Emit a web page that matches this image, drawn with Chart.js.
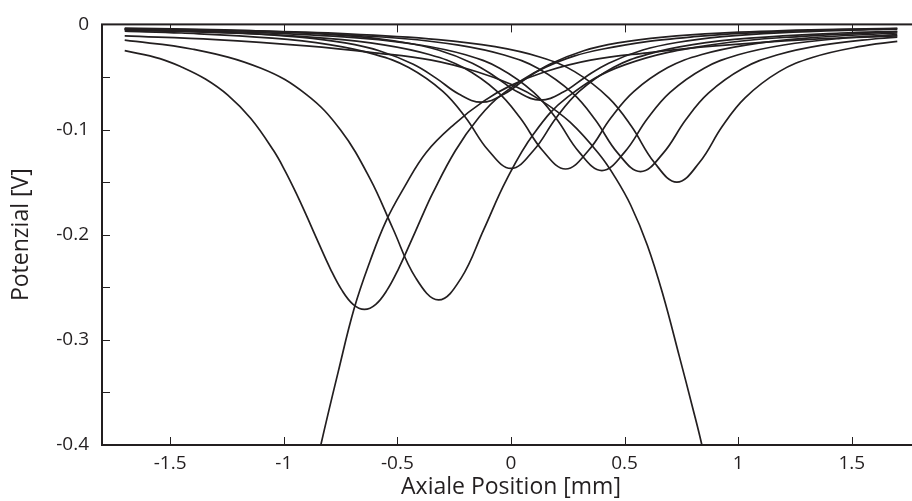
<!DOCTYPE html>
<html>
<head>
<meta charset="utf-8">
<script src="https://cdn.jsdelivr.net/npm/chart.js@4.4.1/dist/chart.umd.min.js"></script>
<style>
  html, body { margin: 0; padding: 0; background: #fff; overflow: hidden; }
  #wrap { position: relative; width: 922px; height: 501px; }
</style>
</head>
<body>
<div id="wrap"><canvas id="chart"></canvas></div>
<script>
const INK = '#231f20';

// tick values
const X_TICKS = [-1.5, -1, -0.5, 0, 0.5, 1, 1.5];
const Y_TICKS = [0, -0.1, -0.2, -0.3, -0.4];
const Y_MINOR = [0, -0.05, -0.1, -0.15, -0.2, -0.25, -0.3, -0.35, -0.4];

// curves (x in mm, potential in V)
const curve1X = [-1.7, -1.545, -1.445, -1.345, -1.245, -1.145, -1.045, -0.995, -0.945, -0.895, -0.845, -0.795, -0.745, -0.695, -0.645, -0.595, -0.545, -0.495, -0.445, -0.395, -0.345, -0.245, -0.145, -0.045, 0.155, 0.405, 0.805, 1.255, 1.7];
const curve1Y = [-0.025, -0.0325, -0.041, -0.052, -0.0675, -0.0895, -0.120, -0.139, -0.1607, -0.1843, -0.2088, -0.2324, -0.2525, -0.2662, -0.271, -0.2662, -0.2525, -0.2324, -0.2088, -0.1843, -0.1607, -0.1201, -0.0895, -0.0675, -0.0404, -0.0234, -0.0117, -0.0063, -0.0039];

const curve2X = [-1.7, -1.4, -1.1, -0.9, -0.75, -0.62, -0.52, -0.42, -0.319, -0.22, -0.12, -0.02, 0.1, 0.25, 0.5, 0.9, 1.3, 1.7];
const curve2Y = [-0.0150, -0.0236, -0.0417, -0.0668, -0.1005, -0.1469, -0.1941, -0.2408, -0.262, -0.2415, -0.1951, -0.1478, -0.104, -0.0689, -0.0385, -0.0189, -0.0111, -0.0072];

const curve3X = [-1.7, -1.45, -1.05, -0.8, -0.6, -0.45, -0.3, -0.2, -0.1, 0, 0.1, 0.2, 0.3, 0.45, 0.6, 0.8, 1.05, 1.45, 1.7];
const curve3Y = [-0.0065, -0.0082, -0.0131, -0.0193, -0.0285, -0.041, -0.0637, -0.0885, -0.1197, -0.137, -0.1197, -0.0885, -0.0637, -0.041, -0.0285, -0.0193, -0.0131, -0.0082, -0.0065];

const curve4X = [-1.7, -1.21, -0.81, -0.56, -0.36, -0.21, -0.06, 0.04, 0.14, 0.24, 0.34, 0.44, 0.54, 0.69, 0.84, 1.04, 1.29, 1.7];
const curve4Y = [-0.0054, -0.0083, -0.0132, -0.0194, -0.0286, -0.0411, -0.0639, -0.0888, -0.1202, -0.1375, -0.1202, -0.0888, -0.0639, -0.0411, -0.0286, -0.0194, -0.0132, -0.0082];

const curve5X = [-1.7, -1.5, -1.05, -0.65, -0.4, -0.2, -0.05, 0.1, 0.2, 0.3, 0.4, 0.5, 0.6, 0.7, 0.85, 1.0, 1.2, 1.45, 1.7];
const curve5Y = [-0.0048, -0.0056, -0.0083, -0.0133, -0.0196, -0.0289, -0.0416, -0.0646, -0.0898, -0.1215, -0.139, -0.1215, -0.0898, -0.0646, -0.0416, -0.0289, -0.0196, -0.0133, -0.0098];

const curve6X = [-1.7, -1.33, -0.88, -0.48, -0.23, -0.03, 0.12, 0.27, 0.37, 0.47, 0.57, 0.67, 0.77, 0.87, 1.02, 1.17, 1.37, 1.62, 1.7];
const curve6Y = [-0.0043, -0.0056, -0.0084, -0.0134, -0.0197, -0.0291, -0.0419, -0.0651, -0.0904, -0.1224, -0.140, -0.1224, -0.0904, -0.0651, -0.0419, -0.0291, -0.0197, -0.0134, -0.0121];

const curve7X = [-1.7, -1.17, -0.72, -0.32, -0.07, 0.13, 0.28, 0.43, 0.53, 0.63, 0.73, 0.83, 0.93, 1.03, 1.18, 1.33, 1.53, 1.7];
const curve7Y = [-0.0042, -0.0060, -0.0090, -0.0144, -0.0212, -0.0312, -0.0449, -0.0698, -0.0969, -0.1311, -0.150, -0.1311, -0.0969, -0.0698, -0.0449, -0.0312, -0.0212, -0.0161];

const curve8X = [-1.7, -1.18, -0.93, -0.73, -0.58, -0.43, -0.33, -0.23, -0.13, -0.03, 0.07, 0.17, 0.32, 0.47, 0.67, 0.92, 1.32, 1.7];
const curve8Y = [-0.0046, -0.0083, -0.0121, -0.0176, -0.025, -0.0379, -0.0511, -0.0662, -0.074, -0.0662, -0.0511, -0.0379, -0.025, -0.0176, -0.0121, -0.0083, -0.0052, -0.0037];

const curve9X = [-1.7, -1.32, -0.92, -0.67, -0.47, -0.32, -0.17, -0.07, 0.03, 0.13, 0.23, 0.33, 0.43, 0.58, 0.73, 0.93, 1.18, 1.58, 1.7];
const curve9Y = [-0.0036, -0.0050, -0.0080, -0.0117, -0.0172, -0.0244, -0.0369, -0.0497, -0.0644, -0.072, -0.0644, -0.0497, -0.0369, -0.0244, -0.0172, -0.0117, -0.0080, -0.0050, -0.0045];

const curve10X = [-1.7, -1.3, -1.05, -0.95, -0.837, -0.76, -0.69, -0.62, -0.55, -0.47, -0.374, -0.25, -0.12, 0, 0.15, 0.35, 0.6, 0.9, 1.3, 1.7];
const curve10Y = [-1.5, -0.95, -0.63, -0.51, -0.40, -0.33, -0.27, -0.225, -0.187, -0.155, -0.122, -0.095, -0.073, -0.058, -0.045, -0.034, -0.027, -0.0205, -0.0145, -0.011];

const curve11X = [-1.7, -1.3, -0.9, -0.6, -0.35, -0.15, 0, 0.13, 0.26, 0.39, 0.46, 0.527, 0.6, 0.67, 0.74, 0.8, 0.84, 0.95, 1.05, 1.3, 1.7];
const curve11Y = [-0.011, -0.0145, -0.0205, -0.027, -0.034, -0.045, -0.057, -0.072, -0.093, -0.124, -0.146, -0.172, -0.21, -0.258, -0.315, -0.365, -0.40, -0.51, -0.62, -0.95, -1.5];

const curves = [
  [curve1X, curve1Y], [curve2X, curve2Y], [curve3X, curve3Y], [curve4X, curve4Y],
  [curve5X, curve5Y], [curve6X, curve6Y], [curve7X, curve7Y], [curve8X, curve8Y],
  [curve9X, curve9Y], [curve10X, curve10Y], [curve11X, curve11Y]
];

const datasets = curves.map(([xs, ys], i) => ({
  label: 'Kurve ' + (i + 1),
  data: xs.map((x, j) => ({ x: x, y: ys[j] })),
  borderColor: INK,
  borderWidth: 1.7,
  pointRadius: 0,
  fill: false,
  tension: 0.4
}));

// frame with inward tick marks on all sides
const frameTicks = {
  id: 'frameTicks',
  afterDatasetsDraw(chart) {
    const { ctx, chartArea, scales } = chart;
    const { left, right, top, bottom } = chartArea;
    ctx.save();
    ctx.strokeStyle = INK;
    ctx.lineWidth = 1;
    ctx.beginPath();
    X_TICKS.forEach((v) => {
      const px = Math.round(scales.x.getPixelForValue(v)) + 0.5;
      ctx.moveTo(px, bottom); ctx.lineTo(px, bottom - 8);
      ctx.moveTo(px, top); ctx.lineTo(px, top + 8);
    });
    Y_MINOR.forEach((v) => {
      const py = Math.round(scales.y.getPixelForValue(v)) + 0.5;
      ctx.moveTo(left, py); ctx.lineTo(left + 8, py);
      ctx.moveTo(right, py); ctx.lineTo(right - 8, py);
    });
    ctx.stroke();
    ctx.lineWidth = 2;
    ctx.strokeRect(left, top, right - left, bottom - top);
    ctx.restore();
  }
};

const tickFont = { family: '"Open Sans", sans-serif', size: 19 };
const titleFont = { family: '"Open Sans", sans-serif', size: 23 };

new Chart(document.getElementById('chart'), {
  type: 'line',
  data: { datasets },
  plugins: [frameTicks],
  options: {
    responsive: true,
    maintainAspectRatio: false,
    animation: false,
    layout: { padding: { top: 20, right: 2, left: 0, bottom: 0 } },
    plugins: {
      legend: { display: false },
      tooltip: { enabled: false }
    },
    scales: {
      x: {
        type: 'linear',
        min: -1.8,
        max: 1.8,
        afterBuildTicks: (s) => { s.ticks = X_TICKS.map((v) => ({ value: v })); },
        afterFit: (s) => { s.height = 56; },
        grid: { display: false, drawTicks: false },
        border: { display: false },
        ticks: { color: INK, font: tickFont, padding: 7, maxRotation: 0, callback: (v) => String(v) },
        title: { display: true, text: 'Axiale Position [mm]', color: INK, font: titleFont, padding: { top: 0, bottom: 0 } }
      },
      y: {
        min: -0.4,
        max: 0,
        afterBuildTicks: (s) => { s.ticks = Y_TICKS.map((v) => ({ value: v })); },
        afterFit: (s) => { s.width = 102; },
        grid: { display: false, drawTicks: false },
        border: { display: false },
        ticks: { color: INK, font: tickFont, padding: 13, callback: (v) => String(v) },
        title: { display: true, text: 'Potenzial [V]', color: INK, font: titleFont, padding: { top: 8, bottom: 0 } }
      }
    }
  }
});
</script>
</body>
</html>
